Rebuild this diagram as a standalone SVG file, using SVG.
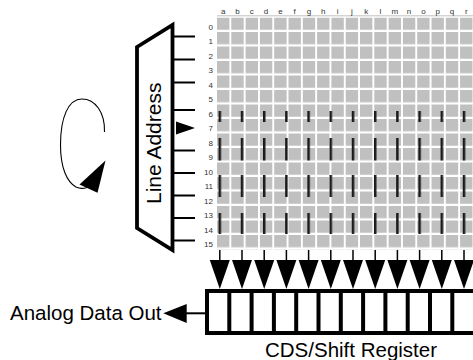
<svg xmlns="http://www.w3.org/2000/svg" width="473" height="360" viewBox="0 0 473 360">
<style>
  .lbl { font-family: "Liberation Sans", Arial, sans-serif; fill: #000; }
  .small { font-family: "Liberation Sans", Arial, sans-serif; font-size: 8px; fill: #333; }
  .thick { stroke: #000; stroke-width: 4; fill: none; }
  .tick { stroke: #000; stroke-width: 2; fill: none; }
</style>
<defs>
  <pattern id="cells" patternUnits="userSpaceOnUse" x="217" y="17.5" width="14.3" height="14.5">
    <rect x="0" y="0" width="12.4" height="12.3" fill="#c0c0c0"/>
  </pattern>
  <pattern id="marks" patternUnits="userSpaceOnUse" x="218.55" y="0" width="22.2" height="360">
    <rect x="0" y="111" width="2.5" height="11" fill="#1a1a1a"/>
    <rect x="0" y="138" width="2.5" height="22.5" fill="#1a1a1a"/>
    <rect x="0" y="175" width="2.5" height="22" fill="#1a1a1a"/>
    <rect x="0" y="213" width="2.5" height="21" fill="#1a1a1a"/>
  </pattern>
  <g id="dn">
    <line x1="0" y1="250" x2="0" y2="261" stroke="#000" stroke-width="1.5"/>
    <polygon points="-10,260 10,260 0,289" fill="#000"/>
  </g>
</defs>
<rect width="473" height="360" fill="#fff"/>

<g id="rotation-arrow">
  <path d="M104.5,132 C105,112 95,99 82,99 C68,99 60.5,118 60.5,145 C60.5,168 67,182 76,187 C80,189 84,188.5 87,187.5" fill="none" stroke="#000" stroke-width="1.1"/>
  <polygon points="79.5,184.5 105.5,160.5 97.5,192.7" fill="#000"/>
</g>

<g id="line-address">
  <polygon points="137,47 172.5,25 172.5,250 137,228" fill="#fff" stroke="#000" stroke-width="3.8" stroke-linejoin="miter"/>
  <path class="tick" d="M172.5,36.5 H195 M172.5,59.5 H195 M172.5,82.5 H195 M172.5,110 H195 M172.5,150.5 H195 M172.5,173 H195 M172.5,195.5 H195 M172.5,218 H195 M172.5,240.5 H195"/>
  <polygon points="176,121.5 195,128 176,134.5" fill="#000"/>
  <text class="lbl" font-size="21" text-anchor="middle" transform="translate(160.5,143.3) rotate(-90)">Line Address</text>
</g>

<g id="pixel-array">
  <line x1="217" y1="15.8" x2="473" y2="15.8" stroke="#b0b0b0" stroke-width="0.8"/>
  <rect x="217" y="17.5" width="257.4" height="232" fill="url(#cells)"/>
  <rect x="215" y="100" width="258" height="140" fill="url(#marks)"/>
  <g class="small" text-anchor="middle">
    <text x="223.2" y="13.5">a</text><text x="237.5" y="13.5">b</text><text x="251.8" y="13.5">c</text>
    <text x="266.1" y="13.5">d</text><text x="280.4" y="13.5">e</text><text x="294.7" y="13.5">f</text>
    <text x="309" y="13.5">g</text><text x="323.3" y="13.5">h</text><text x="337.6" y="13.5">i</text>
    <text x="351.9" y="13.5">j</text><text x="366.2" y="13.5">k</text><text x="380.5" y="13.5">l</text>
    <text x="394.8" y="13.5">m</text><text x="409.1" y="13.5">n</text><text x="423.4" y="13.5">o</text>
    <text x="437.7" y="13.5">p</text><text x="452" y="13.5">q</text><text x="466.3" y="13.5">r</text>
  </g>
  <g class="small" text-anchor="end">
    <text x="213" y="29.5">0</text><text x="213" y="44">1</text><text x="213" y="58.5">2</text>
    <text x="213" y="73">3</text><text x="213" y="87.5">4</text><text x="213" y="102">5</text>
    <text x="213" y="116.5">6</text><text x="213" y="131">7</text><text x="213" y="145.5">8</text>
    <text x="213" y="160">9</text><text x="213" y="174.5">10</text><text x="213" y="189">11</text>
    <text x="213" y="203.5">12</text><text x="213" y="218">13</text><text x="213" y="232.5">14</text>
    <text x="213" y="247">15</text>
  </g>
</g>

<g id="shift-register">
  <path class="thick" d="M205,291 H476 M205,333 H476 M207,289 V335"/>
  <path class="thick" d="M229.3,291 V333 M251.6,291 V333 M273.9,291 V333 M296.2,291 V333 M318.5,291 V333 M340.8,291 V333 M363.1,291 V333 M385.4,291 V333 M407.7,291 V333 M430,291 V333 M452.3,291 V333"/>
  <text class="lbl" font-size="20.5" x="351" y="356.7" text-anchor="middle">CDS/Shift Register</text>
</g>

<g id="analog-out">
  <text class="lbl" font-size="20.5" x="10" y="319.5">Analog Data Out</text>
</g>

<g id="connectors">
  <use href="#dn" x="219.8"/><use href="#dn" x="242"/><use href="#dn" x="264.2"/>
  <use href="#dn" x="286.4"/><use href="#dn" x="308.6"/><use href="#dn" x="330.8"/>
  <use href="#dn" x="353"/><use href="#dn" x="375.2"/><use href="#dn" x="397.4"/>
  <use href="#dn" x="419.6"/><use href="#dn" x="441.8"/><use href="#dn" x="464"/>
  <line x1="186" y1="313.3" x2="205" y2="313.3" stroke="#000" stroke-width="2"/>
  <polygon points="186.7,304 163.3,313.3 186.7,323" fill="#000"/>
</g>
</svg>
